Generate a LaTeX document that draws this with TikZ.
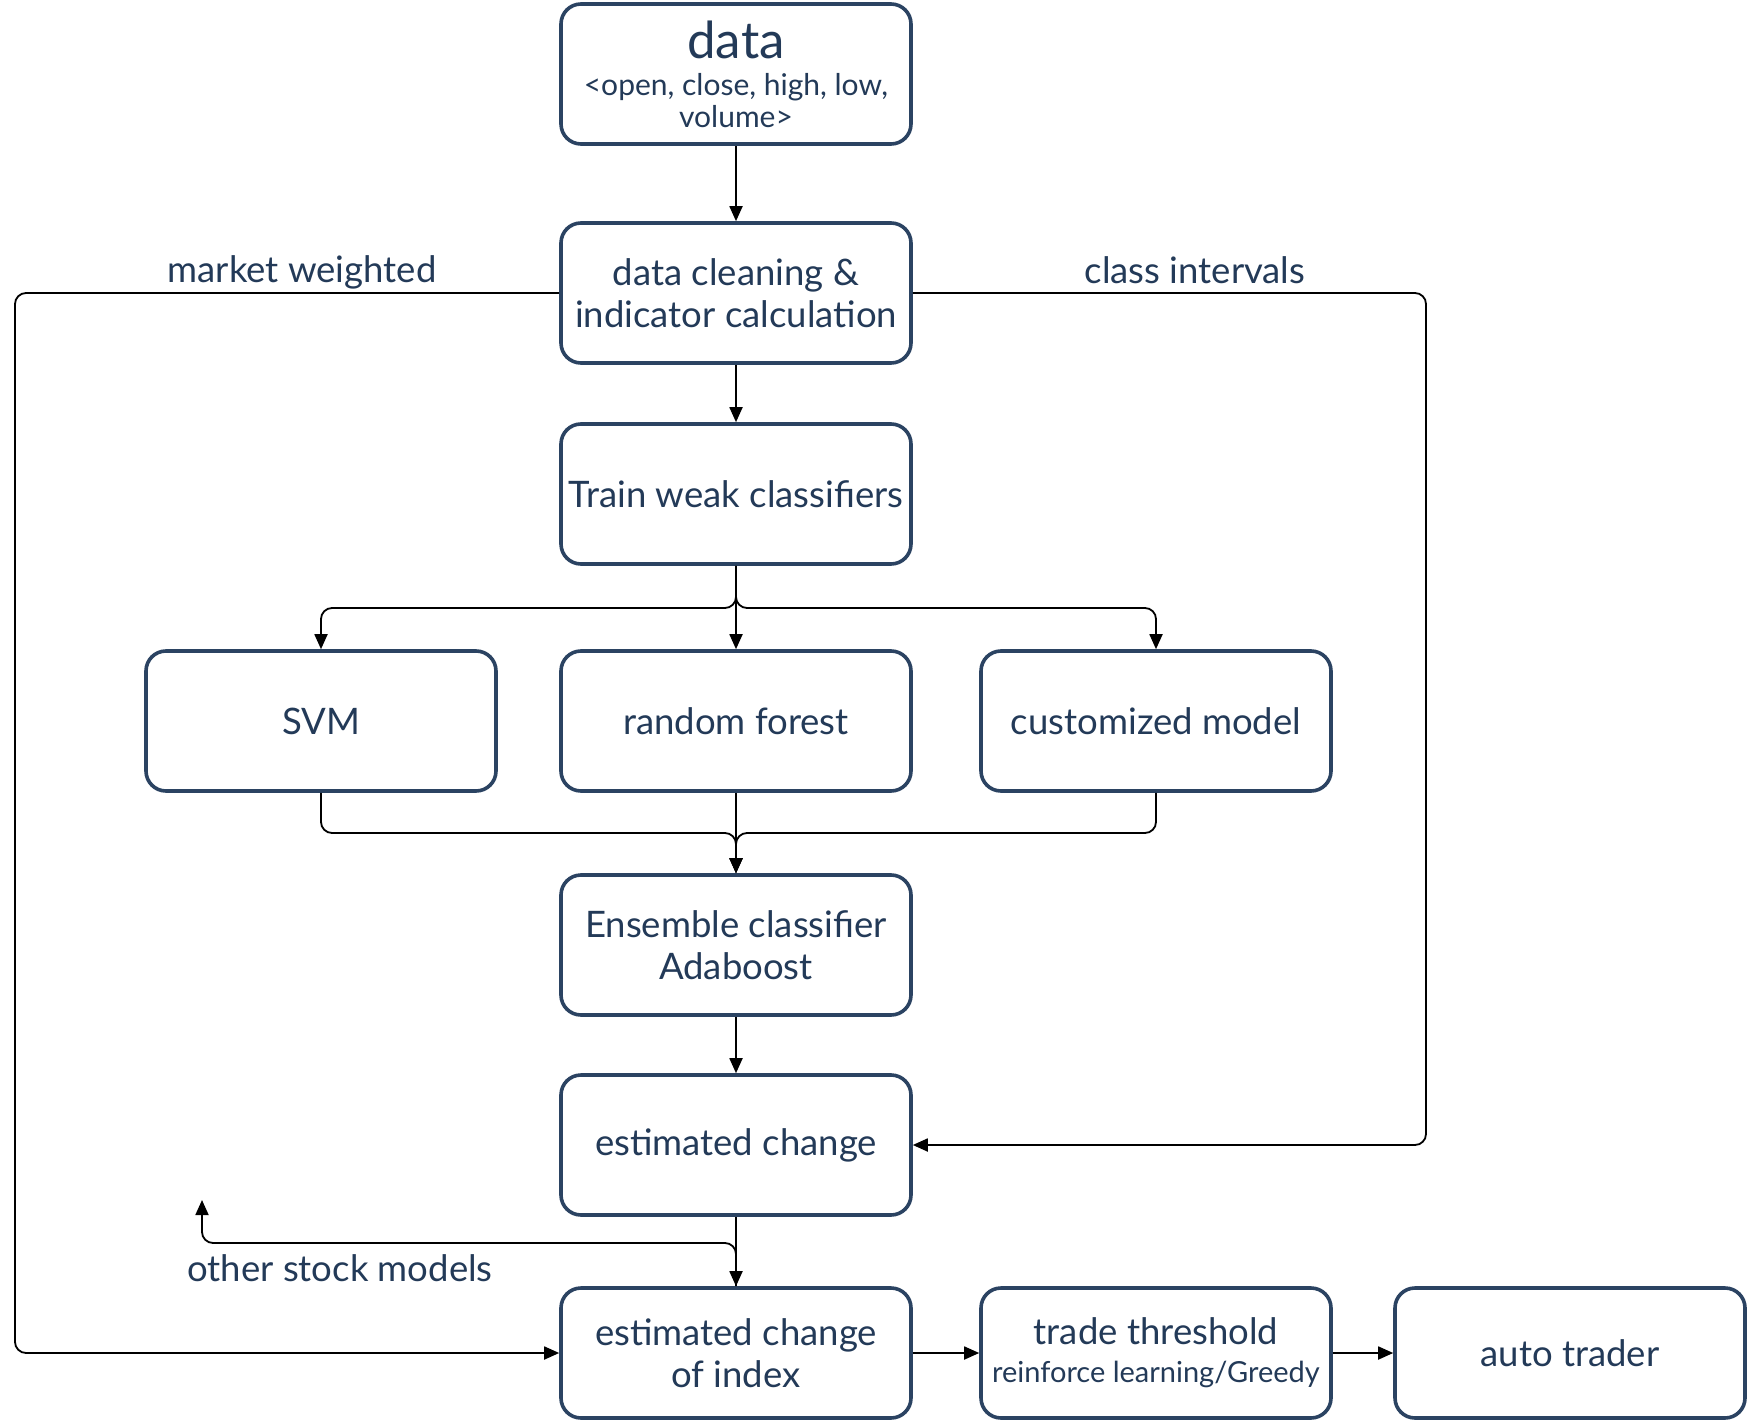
\documentclass[tikz,border=0pt]{standalone}
\usepackage{fontspec}
\setmainfont{Lato}
\usetikzlibrary{arrows.meta}
\definecolor{boxline}{HTML}{2B4362}
\definecolor{txt}{HTML}{233A58}
\tikzset{
  box/.style={draw=boxline, line width=3.6pt, rounded corners=20pt, minimum width=350pt, minimum height=140pt, align=center, text=txt, inner sep=2pt,
    font=\fontsize{36.5}{42}\selectfont},
  conn/.style={draw=black, line width=1.8pt, rounded corners=11pt, -{Triangle[width=13pt,length=15pt]}},
  lbl/.style={text=txt, font=\fontsize{36.5}{42}\selectfont, inner sep=0pt}
}
\begin{document}
\begin{tikzpicture}[x=1pt,y=-1pt]
\useasboundingbox[fill=white] (0,0) rectangle (1748,1420);
\node[box] (data) at (736,74) {{\fontsize{51}{52}\selectfont data}\\[-5pt]{\fontsize{30}{31}\selectfont <open, close, high, low,}\\[-10pt]{\fontsize{30}{31}\selectfont volume>}};
\node[box] (clean) at (736,293) {data cleaning \&\\indicator calculation};
\node[box] (train) at (736,494) {Train weak classifiers};
\node[box] (svm) at (321,721) {SVM};
\node[box] (rf) at (736,721) {random forest};
\node[box] (cust) at (1156,721) {customized model};
\node[box] (ens) at (736,945) {Ensemble classifier\\Adaboost};
\node[box] (est) at (736,1145) {estimated change};
\node[box, minimum height=130pt] (idx) at (736,1353) {estimated change\\of index};
\node[box, minimum height=130pt] (trade) at (1156,1353) {trade threshold\\[-4pt]{\fontsize{29}{32}\selectfont reinforce learning/Greedy}};
\node[box, minimum height=130pt] (auto) at (1570,1353) {auto trader};

\draw[conn] (data) -- (clean);
\draw[conn] (clean) -- (train);
\draw[conn] (train) -- (rf);
\draw[conn] (train.south) -- (736,608) -| (svm.north);
\draw[conn] (train.south) -- (736,608) -| (cust.north);
\draw[conn] (rf) -- (ens);
\draw[conn] (svm.south) |- (736,833) -- (ens.north);
\draw[conn] (cust.south) |- (736,833) -- (ens.north);
\draw[conn] (ens) -- (est);
\draw[conn] (est) -- (idx);
\coordinate (other) at (202,1200);
\draw[conn] (idx.north) -- (736,1243) -| (other);
\draw[conn] (clean.west) -| (15,1353) -- (idx.west);
\draw[conn] (clean.east) -| (1426,1145) -- (est.east);
\draw[conn] (idx) -- (trade);
\draw[conn] (trade) -- (auto);

\node[lbl] (mw) at (302,272) {market weighted};
\node[lbl] (ci) at (1195,270) {class intervals};
\node[lbl] (osm) at (340,1268) {other stock models};
\end{tikzpicture}
\end{document}
